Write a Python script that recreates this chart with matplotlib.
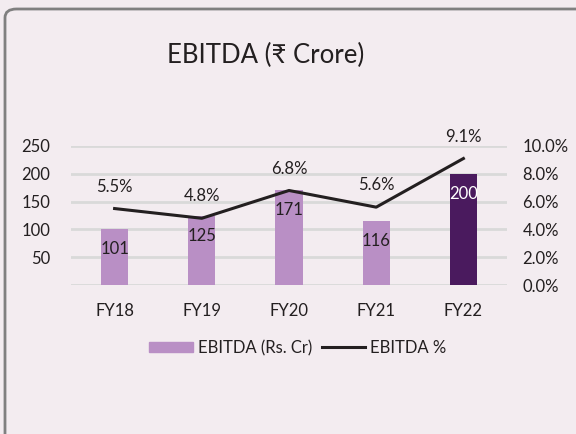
import matplotlib.pyplot as plt
from matplotlib.patches import FancyBboxPatch
from matplotlib.lines import Line2D
from matplotlib.patches import Patch
import numpy as np

plt.rcParams['font.family'] = ['Lato', 'Noto Sans', 'DejaVu Sans']

# Data
years = ['FY18', 'FY19', 'FY20', 'FY21', 'FY22']
ebitda = [101, 125, 171, 116, 200]
ebitda_pct = [5.5, 4.8, 6.8, 5.6, 9.1]

light = '#b98fc5'
dark = '#4a1a5e'
txt = '#231f20'
bg = '#f3ecf0'

fig = plt.figure(figsize=(5.76, 4.34), dpi=100, facecolor=bg)

# rounded panel border
panel = FancyBboxPatch((5 / 576, -0.2), 1.2, (434 - 9) / 434 + 0.2,
                       boxstyle='round,pad=0,rounding_size=0.02',
                       transform=fig.transFigure, facecolor='none',
                       edgecolor='#808080', linewidth=2)
fig.patches.append(panel)

fig.text(266 / 576, 1 - 55 / 434, 'EBITDA (₹ Crore)', ha='center', va='center',
         fontsize=18.5, color=txt)

ax = fig.add_axes([71 / 576, 149 / 434, 436 / 576, 139 / 434])
ax.set_facecolor('none')
x = np.arange(len(years))
colors = [light] * 4 + [dark]
bars = ax.bar(x, ebitda, width=0.31, color=colors, zorder=2)
for xi, v, c in zip(x, ebitda, colors):
    ax.text(xi, v - 37, str(v), ha='center', va='center', fontsize=12,
            color='white' if c == dark else txt, zorder=3)

ax.set_ylim(0, 250)
ax.set_xlim(-0.5, 4.5)
ax.set_yticks([0, 50, 100, 150, 200, 250])
ax.set_yticklabels(['', '50', '100', '150', '200', '250'])
ax.yaxis.grid(True, color='#d9d9d9', linewidth=2, zorder=0)
ax.set_axisbelow(True)
ax.set_xticks(x)
ax.set_xticklabels(years)
ax.tick_params(axis='both', length=0, labelsize=12, colors=txt)
ax.tick_params(axis='y', pad=15)
ax.tick_params(axis='x', pad=13)
for s in ax.spines.values():
    s.set_visible(False)

ax2 = ax.twinx()
ax2.plot(x, ebitda_pct, color='#231f20', linewidth=2.2, zorder=4)
for xi, p in zip(x, ebitda_pct):
    ax2.text(xi, p + 1.0, f'{p:.1f}%', ha='center', va='bottom', fontsize=12, color=txt)
ax2.set_ylim(0, 10)
ax2.set_yticks([0, 2, 4, 6, 8, 10])
ax2.set_yticklabels([f'{t:.1f}%' for t in [0, 2, 4, 6, 8, 10]])
ax2.tick_params(axis='y', length=0, labelsize=12, colors=txt, pad=11)
for s in ax2.spines.values():
    s.set_visible(False)

handles = [Patch(color=light, label='EBITDA (Rs. Cr)'),
           Line2D([0], [0], color='#231f20', linewidth=2.2, label='EBITDA %')]
fig.legend(handles=handles, loc='center', bbox_to_anchor=(298 / 576, 1 - 348 / 434),
           ncol=2, frameon=False, fontsize=12, handlelength=2.6, handleheight=0.6,
           handletextpad=0.3, columnspacing=0.6, labelcolor=txt)

fig.savefig('out.png', dpi=100, facecolor=bg)
